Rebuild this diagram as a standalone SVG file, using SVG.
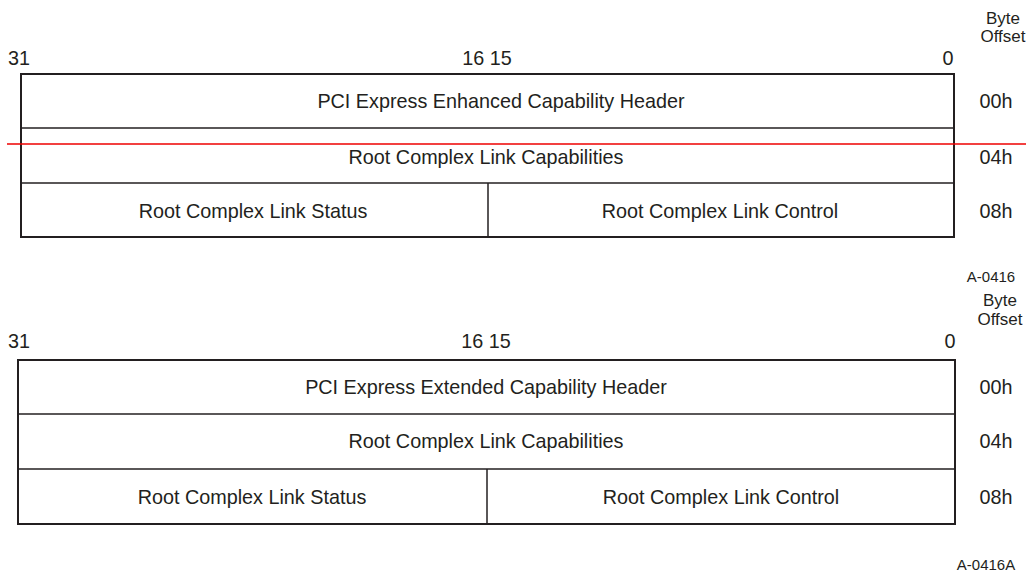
<svg xmlns="http://www.w3.org/2000/svg" width="1026" height="575" viewBox="0 0 1026 575">
<style>
text{font-family:"Liberation Sans",Arial,sans-serif;font-size:19.8px;fill:#231f20}
.c{text-anchor:middle}
.s{font-size:15px}
.b{font-size:17px}
.box{fill:#fff;stroke:#231f20;stroke-width:2}
.ln{stroke:#231f20;stroke-width:1.5;fill:none}
</style>
<g id="top">
<g id="top-labels">
<text x="1003" y="24" class="c b">Byte</text>
<text x="1003" y="42" class="c b">Offset</text>
<text x="8" y="65">31</text>
<text x="487" y="65" class="c">16 15</text>
<text x="948" y="65" class="c">0</text>
</g>
<g id="top-row0"><rect class="box" x="21" y="74" width="933" height="163"/>
<text x="501" y="108" class="c">PCI Express Enhanced Capability Header</text>
<text x="996" y="108" class="c">00h</text></g>
<g id="top-row1">
<text x="486" y="164" class="c">Root Complex Link Capabilities</text>
<text x="996" y="164" class="c">04h</text></g>
<g id="top-row2">
<text x="253" y="218" class="c">Root Complex Link Status</text>
<text x="720" y="218" class="c">Root Complex Link Control</text>
<text x="996" y="218" class="c">08h</text></g>
<text x="991" y="282" class="c s">A-0416</text>
</g>
<g id="bottom">
<g id="bottom-labels">
<text x="1000" y="306" class="c b">Byte</text>
<text x="1000" y="325" class="c b">Offset</text>
<text x="8" y="348">31</text>
<text x="486" y="348" class="c">16 15</text>
<text x="950" y="348" class="c">0</text>
</g>
<g id="bot-row0"><rect class="box" x="18" y="360" width="937" height="164"/>
<text x="486" y="394" class="c">PCI Express Extended Capability Header</text>
<text x="996" y="394" class="c">00h</text></g>
<g id="bot-row1">
<text x="486" y="448" class="c">Root Complex Link Capabilities</text>
<text x="996" y="448" class="c">04h</text></g>
<g id="bot-row2">
<text x="252" y="504" class="c">Root Complex Link Status</text>
<text x="721" y="504" class="c">Root Complex Link Control</text>
<text x="996" y="504" class="c">08h</text></g>
<text x="986" y="570" class="c s">A-0416A</text>
</g>
<g id="connectors">
<line class="ln" x1="21" y1="128" x2="954" y2="128"/>
<line class="ln" x1="21" y1="183" x2="954" y2="183"/>
<line class="ln" x1="488" y1="183" x2="488" y2="237"/>
<line class="ln" x1="18" y1="414" x2="955" y2="414"/>
<line class="ln" x1="18" y1="469" x2="955" y2="469"/>
<line class="ln" x1="487" y1="469" x2="487" y2="524"/>
<line x1="7" y1="144" x2="1026" y2="144" stroke="#e00" stroke-width="1.5"/>
</g>
</svg>
